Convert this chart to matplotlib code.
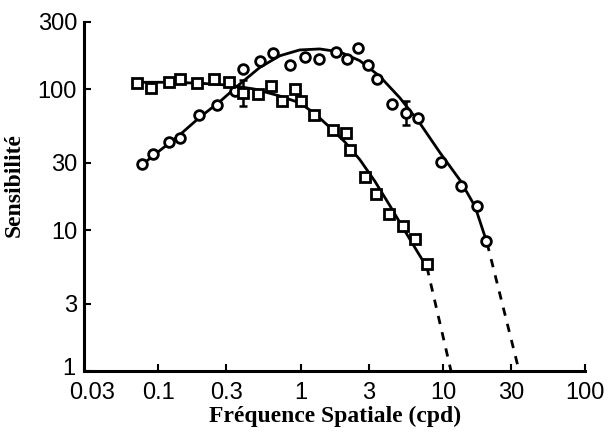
import matplotlib.pyplot as plt
from matplotlib.ticker import FixedLocator, NullLocator
from matplotlib.transforms import ScaledTranslation

# ----------------- DATA -----------------
# circles: luminance sensitivity
lum_f = [0.077, 0.091, 0.119, 0.141, 0.194, 0.256, 0.343, 0.391, 0.514, 0.635,
         0.837, 1.07, 1.34, 1.76, 2.11, 2.52, 2.96, 3.43, 4.37, 5.49,
         6.67, 9.68, 13.4, 17.3, 20.1]
lum_s = [29.2, 34.8, 42.2, 45, 65, 77, 97, 138, 159, 181,
         149, 169, 164, 184, 164, 196, 149, 117, 79, 68,
         62, 30.6, 20.5, 14.9, 8.3]

# squares: chromatic sensitivity
chr_f = [0.071, 0.089, 0.118, 0.141, 0.188, 0.244, 0.311, 0.391, 0.498, 0.615,
         0.735, 0.907, 1.0, 1.25, 1.68, 2.07, 2.21, 2.82, 3.37, 4.17,
         5.23, 6.35, 7.71]
chr_s = [110, 102, 112, 117, 110, 117, 112, 94, 92, 105,
         83, 100, 83, 65, 51, 49, 37, 23.7, 18.1, 13.1,
         10.7, 8.7, 5.7]

# error bars (lower, upper) on one point of each series
lum_err_f, lum_err_s, lum_err = [5.49], [68], ([12], [14])
chr_err_f, chr_err_s, chr_err = [0.391], [94], ([18], [22])

# fitted curves (vertices)
lum_fit_f = [0.0772, 0.1017, 0.1406, 0.1944, 0.2689, 0.3718, 0.5143, 0.7113, 0.984,
             1.361, 1.882, 2.603, 3.600, 4.980, 6.887, 9.526, 13.17, 16.80, 20.41]
lum_fit_s = [29.2, 36.5, 47.2, 62.9, 81.2, 108.3, 142.1, 172.2, 189.6,
             192.7, 183.6, 159.0, 123.1, 86.6, 57.2, 35.4, 22.6, 14.7, 8.1]
lum_ext_f = [20.41, 34.3]
lum_ext_s = [8.1, 1.0]

chr_fit_f = [0.0711, 0.1195, 0.1944, 0.3162, 0.4744, 0.7113, 0.984, 1.255, 1.600,
             2.041, 2.603, 3.320, 4.235, 5.400, 6.667, 7.716]
chr_fit_s = [111.8, 111.8, 110.1, 106.6, 100, 89.4, 79.9, 67.1, 53.6,
             42.2, 31.6, 22.2, 14.9, 9.84, 6.92, 5.45]
chr_ext_f = [7.716, 11.39]
chr_ext_s = [5.45, 1.0]

xticks = [0.03, 0.1, 0.3, 1, 3, 10, 30, 100]
xticklabels = ["0.03", "0.1", "0.3", "1", "3", "10", "30", "100"]
yticks = [1, 3, 10, 30, 100, 300]
yticklabels = ["1", "3", "10", "30", "100", "300"]

# ----------------- PLOT -----------------
fig = plt.figure(figsize=(6.09, 4.37), dpi=100)
ax = fig.add_axes([0.138, 0.151, 0.823, 0.799])
ax.set_xscale('log')
ax.set_yscale('log')

# curves
ax.plot(lum_fit_f, lum_fit_s, '-', color='k', lw=2.0, zorder=2)
ax.plot(lum_ext_f, lum_ext_s, '--', color='k', lw=2.0, dashes=(3, 3), zorder=2)
ax.plot(chr_fit_f, chr_fit_s, '-', color='k', lw=2.0, zorder=2)
ax.plot(chr_ext_f, chr_ext_s, '--', color='k', lw=2.0, dashes=(3, 3), zorder=2)

# error bars
ax.errorbar(lum_err_f, lum_err_s, yerr=lum_err, fmt='none', ecolor='k',
            elinewidth=1.8, capsize=3, capthick=1.8, zorder=3)
ax.errorbar(chr_err_f, chr_err_s, yerr=chr_err, fmt='none', ecolor='k',
            elinewidth=1.8, capsize=3, capthick=1.8, zorder=3)

# data points
ax.plot(lum_f, lum_s, 'o', mfc='white', mec='k', mew=2.0, ms=7, zorder=4)
ax.plot(chr_f, chr_s, 's', mfc='white', mec='k', mew=2.0, ms=7, zorder=4)

ax.set_xlim(0.03, 100)
ax.set_ylim(1, 300)

ax.xaxis.set_major_locator(FixedLocator(xticks))
ax.xaxis.set_minor_locator(NullLocator())
ax.yaxis.set_major_locator(FixedLocator(yticks))
ax.yaxis.set_minor_locator(NullLocator())
ax.set_xticklabels(xticklabels, family='Liberation Sans', fontsize=17)
ax.set_yticklabels(yticklabels, family='Liberation Sans', fontsize=17)
ax.tick_params(direction='in', length=5, width=1.5, pad=5)
ax.tick_params(axis='x', pad=8)

# corner labels nudged apart, as in the reference
first_x = ax.get_xticklabels()[0]
first_x.set_transform(first_x.get_transform() + ScaledTranslation(8 / 100, 0, fig.dpi_scale_trans))
first_y = ax.get_yticklabels()[0]
first_y.set_transform(first_y.get_transform() + ScaledTranslation(-2 / 100, 5 / 100, fig.dpi_scale_trans))

for s in ['top', 'right']:
    ax.spines[s].set_visible(False)
for s in ['left', 'bottom']:
    ax.spines[s].set_linewidth(2.2)

ax.set_xlabel('Fréquence Spatiale (cpd)', family='Liberation Serif',
              fontweight='bold', fontsize=17, labelpad=1)
ax.set_ylabel('Sensibilité', family='Liberation Serif',
              fontweight='bold', fontsize=17)
ax.yaxis.set_label_coords(-0.118, 0.533)

plt.savefig("out.png", dpi=100)
